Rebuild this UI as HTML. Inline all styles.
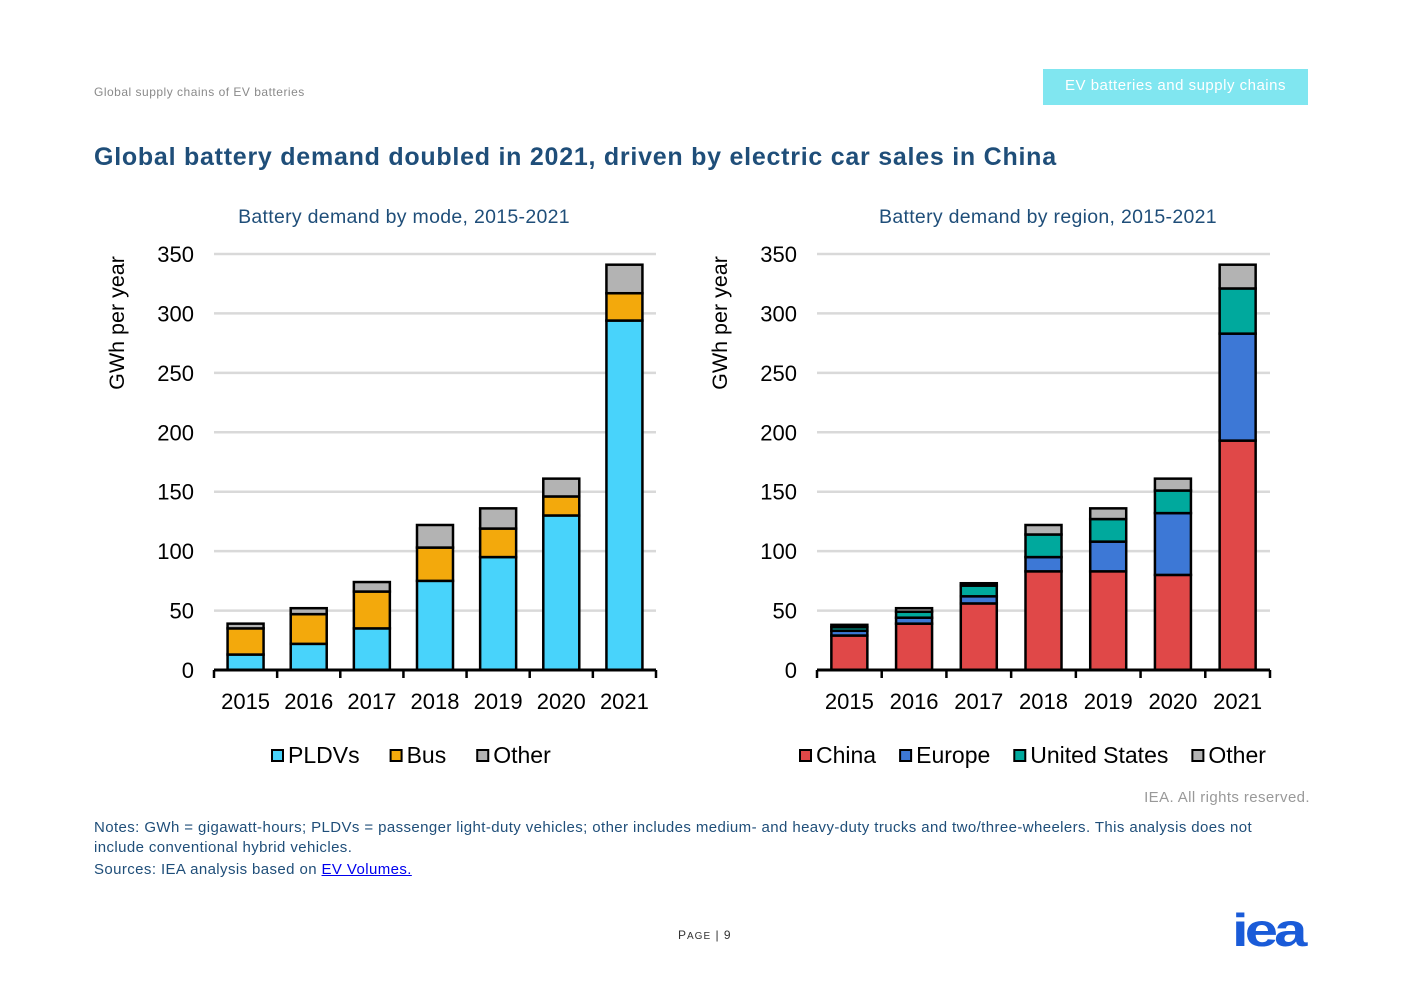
<!DOCTYPE html>
<html><head><meta charset="utf-8"><style>
body{margin:0;background:#fff;width:1403px;height:992px;overflow:hidden;font-family:"Liberation Sans",sans-serif;}
.abs{position:absolute;}
</style></head><body>
<div class="abs" style="left:94px;top:85px;font-size:12px;color:#8a8a8a;letter-spacing:0.5px;">Global supply chains of EV batteries</div>
<div class="abs" style="left:1043px;top:69px;width:265px;height:36px;background:#80e6f0;color:#fff;font-size:15px;line-height:34px;text-align:center;letter-spacing:0.5px;">EV batteries and supply chains</div>
<div class="abs" style="left:94px;top:143px;font-size:25px;font-weight:bold;color:#1f4e79;letter-spacing:0.75px;">Global battery demand doubled in 2021, driven by electric car sales in China</div>
<svg class="abs" id="charts" style="left:0;top:0" width="1403" height="992"></svg>
<div class="abs" style="left:1060px;top:789px;width:250px;text-align:right;font-size:15px;color:#999;letter-spacing:0.4px;">IEA. All rights reserved.</div>
<div class="abs" style="left:94px;top:818px;width:1180px;font-size:15px;line-height:20px;color:#1f4e79;letter-spacing:0.4px;">Notes: GWh = gigawatt-hours; PLDVs = passenger light-duty vehicles; other includes medium- and heavy-duty trucks and two/three-wheelers. This analysis does not include conventional hybrid vehicles.<br><span style="line-height:24px">Sources: IEA analysis based on <a style="color:#0000ee;text-decoration:underline">EV Volumes.</a></span></div>
<div class="abs" style="left:678px;top:928px;font-size:12px;color:#333;letter-spacing:1px;">P<span style="font-size:10px">AGE</span> | 9</div>
<div class="abs" style="left:1232px;top:903px;font-size:46px;font-weight:bold;color:#1a5bd8;letter-spacing:-3px;transform:scaleX(1.3);transform-origin:left top;">iea</div>
<script>
const years=["2015","2016","2017","2018","2019","2020","2021"];
const ticks=[0,50,100,150,200,250,300,350];
const pldv=[13,22,35,75,95,130,294];
const bus=[22,25,31,28,24,16,23];
const otherMode=[4,5,8,19,17,15,24];
const china=[29,39,56,83,83,80,193];
const europe=[4,5,6,12,25,52,90];
const us=[3,5,9,19,19,19,38];
const otherRegion=[2,3,2,8,9,10,20];
const NS="http://www.w3.org/2000/svg";
const svg=document.getElementById('charts');
function mk(t,a,p){const e=document.createElementNS(NS,t);for(const k in a)e.setAttribute(k,a[k]);(p||svg).appendChild(e);return e;}
function chart(name,x0,x1,subtitle,subX,series,colors,labels,legendX,gap){
  const y0=670,yTop=254,max=350;
  const ys=v=>y0-(v/max)*(y0-yTop);
  const g=mk('g',{});
  
  
  const st=mk('text',{x:subX,y:223,'text-anchor':'middle','font-size':19.5,fill:'#1f4e79','letter-spacing':0.3},g);st.textContent=subtitle;
  
  const yt=mk('text',{transform:`translate(${x0-90},${323}) rotate(-90)`,'text-anchor':'middle','font-size':21.5,fill:'#000'},g);yt.textContent='GWh per year';
  
  ticks.forEach(t=>{
    if(t>0){const l=mk('line',{x1:x0,x2:x1,y1:ys(t),y2:ys(t),stroke:'#d9d9d9','stroke-width':2.5},g);
    }
    const tx=mk('text',{x:x0-20,y:ys(t)+8,'text-anchor':'end','font-size':22},g);tx.textContent=t;
    
  });
  const n=years.length,step=(x1-x0)/n,bw=36;
  years.forEach((yr,i)=>{
    const cx=x0+step*(i+0.5);let acc=0;
    series.forEach((s,j)=>{
      const r=mk('rect',{x:cx-bw/2,y:ys(acc+s[i]),width:bw,height:ys(acc)-ys(acc+s[i]),fill:colors[j],stroke:'#000','stroke-width':2.5},g);
      
      
      acc+=s[i];
    });
    const tx=mk('text',{x:cx,y:709,'text-anchor':'middle','font-size':22},g);tx.textContent=yr;
    
  });
  const ax=mk('line',{x1:x0,x2:x1,y1:y0,y2:y0,stroke:'#000','stroke-width':3},g);
  
  for(let i=0;i<=n;i++){const t=mk('line',{x1:x0+step*i,x2:x0+step*i,y1:y0,y2:y0+8,stroke:'#000','stroke-width':2.5},g);
    }
  let lx=legendX;
  labels.forEach((lb,j)=>{
    const lg=mk('g',{},g);
    
    
    mk('rect',{x:lx,y:750,width:11,height:11,fill:colors[j],stroke:'#000','stroke-width':2},lg);
    const t=mk('text',{x:lx+16,y:763,'font-size':23},lg);t.textContent=lb;
    lx+=16+t.getComputedTextLength()+gap;
  });
}
chart('chart-by-mode',214,656,'Battery demand by mode, 2015-2021',404,[pldv,bus,otherMode],['#48d3fb','#f3a90c','#b3b3b3'],['PLDVs','Bus','Other'],272,31);
chart('chart-by-region',817,1270,'Battery demand by region, 2015-2021',1048,[china,europe,us,otherRegion],['#e04848','#3d78d6','#00a99d','#b3b3b3'],['China','Europe','United States','Other'],800,24);
</script>
</body></html>
